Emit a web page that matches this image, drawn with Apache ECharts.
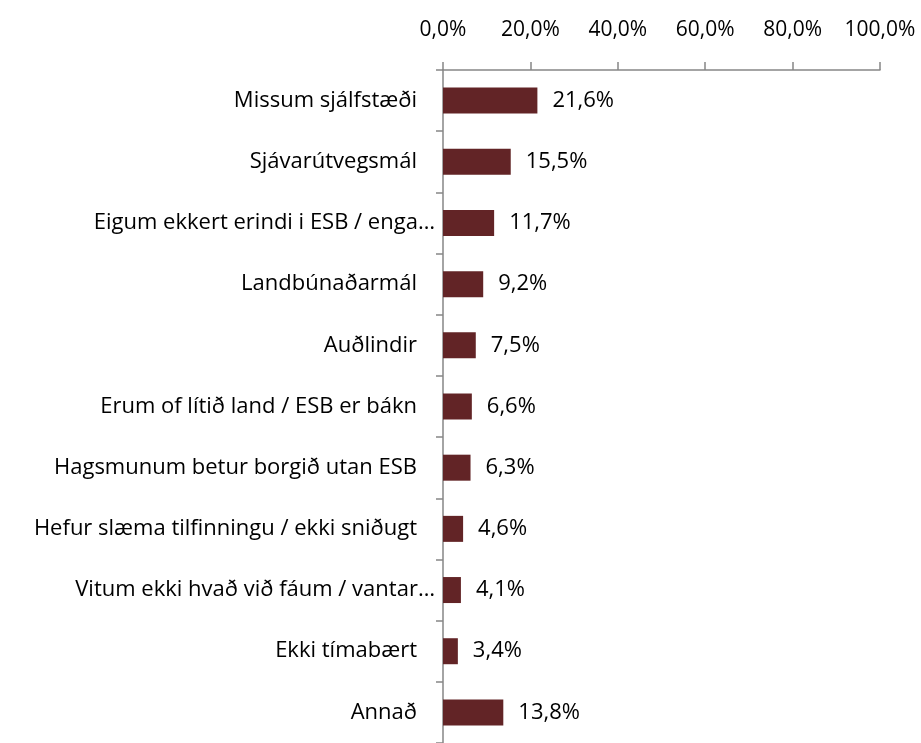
<!DOCTYPE html>
<html>
<head>
<meta charset="utf-8">
<script src="https://cdn.jsdelivr.net/npm/echarts@6/dist/echarts.min.js"></script>
<style>
  html, body { margin: 0; padding: 0; background: #fff; }
  #chart { width: 921px; height: 743px; }
</style>
</head>
<body>
<div id="chart"></div>
<script>
// flokkar (ástæður) og hlutföll í %
var categories = [
    'Missum sjálfstæði',
    'Sjávarútvegsmál',
    'Eigum ekkert erindi i ESB / enga…',
    'Landbúnaðarmál',
    'Auðlindir',
    'Erum of lítið land / ESB er bákn',
    'Hagsmunum betur borgið utan ESB',
    'Hefur slæma tilfinningu / ekki sniðugt',
    'Vitum ekki hvað við fáum / vantar…',
    'Ekki tímabært',
    'Annað'
];
var values = [21.6, 15.5, 11.7, 9.2, 7.5, 6.6, 6.3, 4.6, 4.1, 3.4, 13.8];
var axisTicks = [0, 20, 40, 60, 80, 100];

function pct(v) {
    return v.toFixed(1).replace('.', ',') + '%';
}

var chart = echarts.init(document.getElementById('chart'));
var font = 'Open Sans';
var fs = 22;
var option = {
    animation: false,
    textStyle: { fontFamily: font },
    grid: { left: 443, top: 70, width: 437, height: 679 },
    xAxis: {
        type: 'value',
        position: 'top',
        min: axisTicks[0],
        max: axisTicks[axisTicks.length - 1],
        interval: axisTicks[1] - axisTicks[0],
        axisLine: { show: true, lineStyle: { color: '#868686', width: 1.5 } },
        axisTick: { show: true, length: 8, lineStyle: { color: '#868686', width: 1.5 } },
        splitLine: { show: false },
        axisLabel: {
            margin: 29,
            color: '#000',
            fontSize: 21,
            fontFamily: font,
            formatter: function (v) { return pct(v); }
        }
    },
    yAxis: {
        type: 'category',
        inverse: true,
        data: categories,
        axisLine: { show: true, lineStyle: { color: '#868686', width: 1.5 } },
        axisTick: { show: true, length: 7, lineStyle: { color: '#868686', width: 1.5 } },
        axisLabel: {
            margin: 8,
            color: '#000',
            fontSize: fs,
            fontFamily: font,
            formatter: function (v) {
                // styttir textar ná nær ásnum
                return v.slice(-1) === '…' ? '{t|' + v + '}' : '{n|' + v + '}';
            },
            rich: {
                t: { fontSize: fs, fontFamily: font, color: '#000' },
                n: { fontSize: fs, fontFamily: font, color: '#000', padding: [0, 18, 0, 0] }
            }
        }
    },
    series: [{
        type: 'bar',
        data: values,
        barWidth: 26,
        itemStyle: { color: '#622426' },
        label: {
            show: true,
            position: 'right',
            distance: 15,
            color: '#000',
            fontSize: fs,
            fontFamily: font,
            formatter: function (p) { return pct(p.value); }
        }
    }]
};
chart.setOption(option);
</script>
</body>
</html>
